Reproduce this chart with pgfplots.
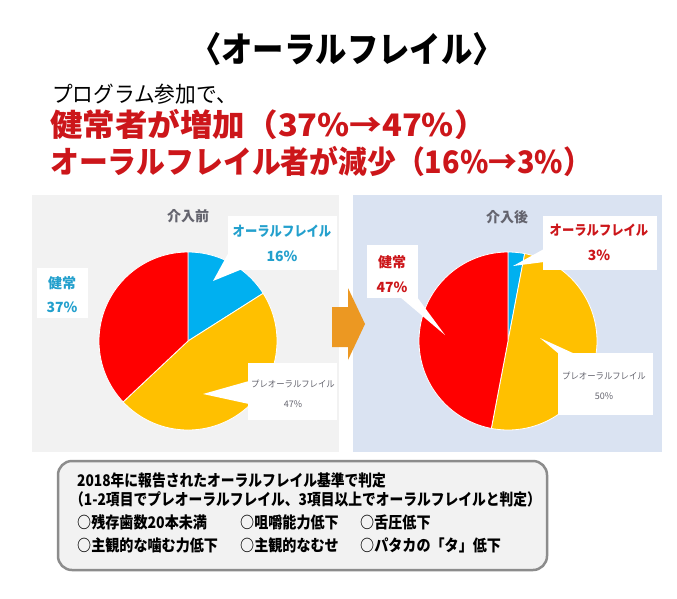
\documentclass[border=0pt]{standalone}
\usepackage{pgfplots}
\pgfplotsset{compat=1.18}
\usepackage{fontspec}
\usepackage{graphicx}
\setmainfont{Noto Sans CJK JP}
\definecolor{pblue}{RGB}{0,176,240}
\definecolor{pyel}{RGB}{255,192,0}
\definecolor{pred}{RGB}{255,0,0}
\definecolor{tred}{RGB}{204,22,26}
\definecolor{tblue}{RGB}{35,160,205}
\definecolor{tgray}{RGB}{100,100,110}
\definecolor{lgray}{RGB}{242,242,242}
\definecolor{lblue}{RGB}{218,227,242}
\definecolor{orng}{RGB}{236,152,34}
\begin{document}
\begin{tikzpicture}[x=1pt,y=1pt]
\useasboundingbox (0,0) rectangle (677,-598);
\fill[white] (0,0) rectangle (677,-598);
% headings
\node[font=\bfseries\fontsize{32}{32}\selectfont,inner sep=0pt] at (347,-49) {\scalebox{0.98}[1.1]{〈オーラルフレイル〉}};
\node[anchor=west,font=\fontsize{22}{22}\selectfont,inner sep=0pt] at (52,-94) {\scalebox{0.94}[1]{プログラム参加で、}};
\node[anchor=west,font=\bfseries\fontsize{31}{31}\selectfont,text=tred,inner sep=0pt] at (50,-124) {\scalebox{1.05}[1]{健常者が増加（37\%→47\%）}};
\node[anchor=west,font=\bfseries\fontsize{31}{31}\selectfont,text=tred,inner sep=0pt] at (50,-161) {\scalebox{0.93}[1]{オーラルフレイル者が減少（16\%→3\%）}};
% panels
\fill[lgray] (32,-195) rectangle (339,-452);
\fill[lblue] (353,-195) rectangle (662,-452);
% arrow
\fill[orng] (332,-307) -- (348,-307) -- (348,-288) -- (365,-324) -- (348,-360) -- (348,-347) -- (332,-347) -- cycle;
% left pie
\begin{axis}[at={(188pt,-341pt)},anchor=center,x=89pt,y=89pt,xmin=-1,xmax=1,ymin=-1,ymax=1,hide axis,clip=false]
\addplot[draw=white,line width=0.8pt,fill=pblue,domain=0:16,samples=40] ({cos(90-3.6*x)},{sin(90-3.6*x)}) -- (axis cs:0,0) -- cycle;
\addplot[draw=white,line width=0.8pt,fill=pyel,domain=16:63,samples=80] ({cos(90-3.6*x)},{sin(90-3.6*x)}) -- (axis cs:0,0) -- cycle;
\addplot[draw=white,line width=0.8pt,fill=pred,domain=63:100,samples=80] ({cos(90-3.6*x)},{sin(90-3.6*x)}) -- (axis cs:0,0) -- cycle;
\end{axis}
% right pie
\begin{axis}[at={(508pt,-341pt)},anchor=center,x=89pt,y=89pt,xmin=-1,xmax=1,ymin=-1,ymax=1,hide axis,clip=false]
\addplot[draw=white,line width=0.8pt,fill=pblue,domain=0:3,samples=20] ({cos(90-3.6*x)},{sin(90-3.6*x)}) -- (axis cs:0,0) -- cycle;
\addplot[draw=white,line width=0.8pt,fill=pyel,domain=3:53,samples=80] ({cos(90-3.6*x)},{sin(90-3.6*x)}) -- (axis cs:0,0) -- cycle;
\addplot[draw=white,line width=0.8pt,fill=pred,domain=53:100,samples=80] ({cos(90-3.6*x)},{sin(90-3.6*x)}) -- (axis cs:0,0) -- cycle;
\end{axis}
% left titles and callouts
\node[font=\bfseries\fontsize{14}{14}\selectfont,text=tgray] at (188,-216) {介入前};
\fill[white] (228,-216) rectangle (337,-270);
\fill[white] (230,-250) -- (213,-281) -- (240,-270) -- cycle;
\node[font=\bfseries\fontsize{14}{14}\selectfont,text=tblue] at (282,-231) {\scalebox{0.88}[1]{オーラルフレイル}};
\node[font=\bfseries\fontsize{14}{14}\selectfont,text=tblue] at (282,-256) {16\%};
\fill[white] (37,-268) rectangle (88,-318);
\node[font=\bfseries\fontsize{14}{14}\selectfont,text=tblue] at (62,-283) {健常};
\node[font=\bfseries\fontsize{14}{14}\selectfont,text=tblue] at (62,-307) {37\%};
\fill[white] (248,-363) rectangle (337,-420);
\fill[white] (249,-381) -- (203,-394) -- (249,-404) -- cycle;
\node[font=\fontsize{9}{9}\selectfont,text=tgray] at (293,-384) {\scalebox{0.93}[1]{プレオーラルフレイル}};
\node[font=\fontsize{9}{9}\selectfont,text=tgray] at (293,-404) {47\%};
% right titles and callouts
\node[font=\bfseries\fontsize{14}{14}\selectfont,text=tgray] at (507,-217) {介入後};
\fill[white] (543,-216) rectangle (657,-270);
\fill[white] (544,-249) -- (513,-266) -- (544,-262) -- cycle;
\node[font=\bfseries\fontsize{14}{14}\selectfont,text=tred] at (599,-230) {\scalebox{0.88}[1]{オーラルフレイル}};
\node[font=\bfseries\fontsize{14}{14}\selectfont,text=tred] at (599,-255) {3\%};
\fill[white] (367,-245) rectangle (418,-298);
\fill[white] (400,-297) -- (445,-335) -- (417,-297) -- cycle;
\node[font=\bfseries\fontsize{14}{14}\selectfont,text=tred] at (392,-262) {健常};
\node[font=\bfseries\fontsize{14}{14}\selectfont,text=tred] at (392,-287) {47\%};
\fill[white] (558,-353) rectangle (653,-415);
\fill[white] (559,-354) -- (540,-338) -- (575,-354) -- cycle;
\node[font=\fontsize{9}{9}\selectfont,text=tgray] at (604,-376) {\scalebox{0.93}[1]{プレオーラルフレイル}};
\node[font=\fontsize{9}{9}\selectfont,text=tgray] at (604,-396) {50\%};
% bottom box
\draw[draw=gray!90,fill=lgray,line width=2.5pt,rounded corners=14pt] (58,-461) rectangle (547,-570);
\begin{scope}[every node/.style={anchor=west,inner sep=0pt,font=\bfseries\fontsize{16}{16}\selectfont}]
\node at (77,-480) {\scalebox{0.86}[1]{2018年に報告されたオーラルフレイル基準で判定}};
\node at (70,-499) {\scalebox{0.86}[1]{（1-2項目でプレオーラルフレイル、3項目以上でオーラルフレイルと判定）}};
\node at (77,-522) {\scalebox{0.88}[1]{○残存歯数20本未満}};
\node at (240,-522) {\scalebox{0.88}[1]{○咀嚼能力低下}};
\node at (360,-522) {\scalebox{0.88}[1]{○舌圧低下}};
\node at (77,-545) {\scalebox{0.88}[1]{○主観的な噛む力低下}};
\node at (240,-545) {\scalebox{0.88}[1]{○主観的なむせ}};
\node at (360,-545) {\scalebox{0.88}[1]{○パタカの「タ」低下}};
\end{scope}
\end{tikzpicture}
\end{document}
